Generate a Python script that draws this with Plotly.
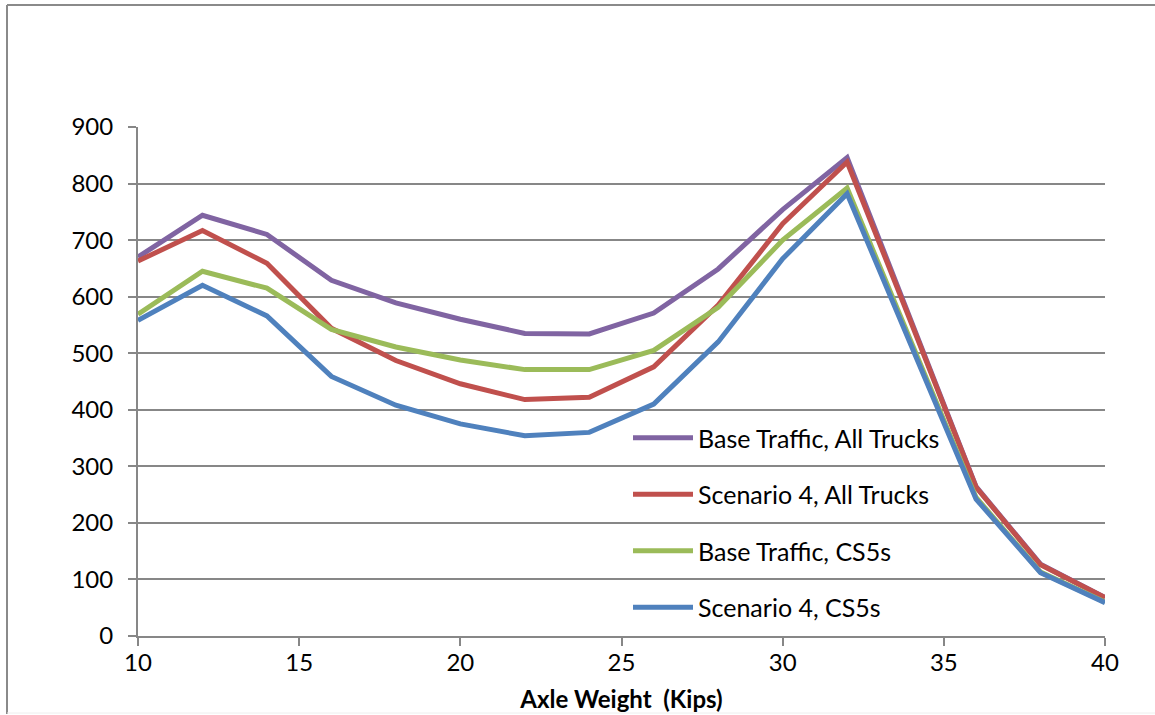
import plotly.graph_objects as go

axle_weight = [10, 12, 14, 16, 18, 20, 22, 24, 26, 28, 30, 32, 34, 36, 38, 40]
base_all = [670, 744, 710, 629, 589, 560, 535, 534, 571, 649, 754, 846, 555, 264, 127, 68]
scen4_all = [663, 717, 659, 544, 487, 446, 418, 422, 476, 585, 729, 838, 552, 263, 126, 68]
base_cs5s = [569, 645, 615, 542, 511, 488, 471, 471, 505, 581, 700, 792, 518, 245, 113, 60]
scen4_cs5s = [558, 620, 566, 459, 408, 375, 354, 360, 410, 520, 667, 782, 512, 242, 112, 59]

series_names = ["Base Traffic, All Trucks", "Scenario 4, All Trucks",
                "Base Traffic, CS5s", "Scenario 4, CS5s"]
series_values = [base_all, scen4_all, base_cs5s, scen4_cs5s]
colors = ["#8064A2", "#C0504D", "#9BBB59", "#4F81BD"]

FONT = "Lato"
GRID = "#878787"

fig = go.Figure()
for i, (name, vals, col) in enumerate(zip(series_names, series_values, colors)):
    fig.add_trace(go.Scatter(
        x=axle_weight, y=vals, mode="lines", name=name,
        legendgroup=f"g{i}",
        line=dict(color=col, width=5),
    ))

W, H = 1155, 715
L, R, T, B = 138, 50, 127, 79
pw = W - L - R
ph = H - T - B

def px_x(p):
    return (p - L) / pw

def px_y(p):
    return (H - B - p) / ph

fig.update_layout(
    width=W, height=H,
    margin=dict(l=L, r=R, t=T, b=B, pad=0, autoexpand=False),
    paper_bgcolor="white", plot_bgcolor="white",
    font=dict(family=FONT, size=24, color="#000000"),
    showlegend=True,
    legend=dict(
        x=px_x(628), y=px_y(415), xanchor="left", yanchor="top",
        bgcolor="rgba(0,0,0,0)", borderwidth=0,
        traceorder="grouped", tracegroupgap=21,
        itemwidth=60,
        font=dict(family=FONT, size=25, color="#000000"),
    ),
    xaxis=dict(
        range=[10, 40], dtick=5, tick0=10,
        showgrid=False, zeroline=False,
        showline=True, linecolor=GRID, linewidth=2,
        ticks="outside", ticklen=8, tickwidth=2, tickcolor=GRID,
        ticklabelstandoff=-4, automargin=False,
        tickfont=dict(family=FONT, size=24, color="#000000"),
        title=dict(text="<b>Axle Weight  (Kips)</b>", standoff=16,
                   font=dict(family=FONT, size=24, color="#000000")),
    ),
    yaxis=dict(
        range=[0, 900], dtick=100, tick0=0,
        showgrid=True, gridcolor=GRID, gridwidth=2,
        zeroline=False,
        showline=True, linecolor=GRID, linewidth=2,
        ticks="outside", ticklen=8, tickwidth=2, tickcolor=GRID,
        ticklabelstandoff=10, automargin=False,
        tickfont=dict(family=FONT, size=24, color="#000000"),
    ),
    shapes=[
        dict(type="line", xref="paper", yref="paper",
             x0=px_x(7), x1=px_x(7), y0=px_y(5), y1=px_y(714),
             line=dict(color="#8a8a8a", width=2)),
        dict(type="line", xref="paper", yref="paper",
             x0=px_x(7), x1=px_x(1160), y0=px_y(5), y1=px_y(5),
             line=dict(color="#8a8a8a", width=2)),
        dict(type="line", xref="paper", yref="paper",
             x0=px_x(7), x1=px_x(1160), y0=px_y(713), y1=px_y(713),
             line=dict(color="#eeeeee", width=1)),
    ],
)

fig.write_html(
    "out.html",
    config={"displayModeBar": False},
    post_script="document.body.style.margin='0';document.body.style.overflow='hidden';",
)
